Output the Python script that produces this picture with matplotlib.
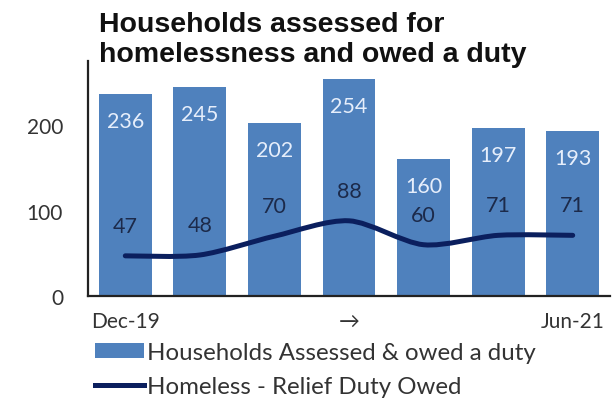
import numpy as np
import matplotlib
matplotlib.use("Agg")
import matplotlib.pyplot as plt
from matplotlib.path import Path
from matplotlib.patches import PathPatch, Patch
from matplotlib.lines import Line2D

# Quarterly figures, Dec-19 to Jun-21
periods = ["Dec-19", "Mar-20", "Jun-20", "Sep-20", "Dec-20", "Mar-21", "Jun-21"]
assessed_owed = [236, 245, 202, 254, 160, 197, 193]
relief_owed = [47, 48, 70, 88, 60, 71, 71]
tick_positions = [0, 3, 6]
tick_labels = ["Dec-19", "\u2192", "Jun-21"]
yticks = [0, 100, 200]

BAR_COLOR = "#4f81bd"
LINE_COLOR = "#0b1f5e"
TEXT_FONT = ["Lato", "DejaVu Sans"]

fig = plt.figure(figsize=(6.16, 4.02), dpi=100)
fig.patch.set_facecolor("white")
ax = fig.add_axes([88 / 616, 1 - 297 / 402, 522 / 616, 235 / 402])

x = np.arange(len(periods))
ax.bar(x, assessed_owed, width=0.71, color=BAR_COLOR, zorder=2)


def smooth_path(xs, ys, tension=6.0):
    """Cubic Bezier path through the points (Catmull-Rom style smoothing)."""
    pts = np.column_stack([xs, ys]).astype(float)
    n = len(pts)
    verts = [tuple(pts[0])]
    codes = [Path.MOVETO]
    for i in range(n - 1):
        p0 = pts[max(i - 1, 0)]
        p1 = pts[i]
        p2 = pts[i + 1]
        p3 = pts[min(i + 2, n - 1)]
        c1 = p1 + (p2 - p0) / tension
        c2 = p2 - (p3 - p1) / tension
        verts += [tuple(c1), tuple(c2), tuple(p2)]
        codes += [Path.CURVE4] * 3
    return Path(verts, codes)


ax.add_patch(PathPatch(smooth_path(x, relief_owed, 7.0), facecolor="none",
                       edgecolor=LINE_COLOR, lw=3.6, capstyle="round",
                       joinstyle="round", zorder=3))

for xi, v in zip(x, assessed_owed):
    ax.annotate(str(v), (xi, v), xytext=(0, -19.5), textcoords="offset points",
                ha="center", va="center", color="#e6eefb", fontsize=15.5,
                family=TEXT_FONT, zorder=4)
for xi, v in zip(x, relief_owed):
    ax.annotate(str(v), (xi, v), xytext=(0, 21.5), textcoords="offset points",
                ha="center", va="center", color="#1c2a4a", fontsize=15.5,
                family=TEXT_FONT, zorder=4)

ax.set_xlim(-0.5, 6.5)
ax.set_ylim(0, 275)
ax.set_yticks(yticks)
ax.set_yticklabels([str(t) for t in yticks], family=TEXT_FONT, fontsize=15,
                   color="#333333")
ax.set_xticks(tick_positions)
ax.set_xticklabels(tick_labels, family=TEXT_FONT, fontsize=15, color="#333333")
ax.tick_params(axis="y", length=0, pad=18)
ax.tick_params(axis="x", length=0, pad=11)

for side in ("top", "right"):
    ax.spines[side].set_visible(False)
for side in ("left", "bottom"):
    ax.spines[side].set_color("#222222")
    ax.spines[side].set_linewidth(1.6)

fig.text(99 / 616, 1 - 32 / 402, "Households assessed for", fontsize=20.5,
         fontweight="bold", family="Liberation Sans", color="#111111",
         va="baseline", ha="left")
fig.text(99 / 616, 1 - 62 / 402, "homelessness and owed a duty", fontsize=20.5,
         fontweight="bold", family="Liberation Sans", color="#111111",
         va="baseline", ha="left")

handles = [Patch(facecolor=BAR_COLOR, edgecolor="none"),
           Line2D([0], [0], color=LINE_COLOR, lw=3.6)]
labels = ["Households Assessed & owed a duty", "Homeless - Relief Duty Owed"]
fig.legend(handles, labels, loc="upper left",
           bbox_to_anchor=(95 / 616, 1 - 343 / 402), frameon=False,
           borderpad=0, borderaxespad=0, handlelength=2.05, handleheight=0.55,
           handletextpad=0.12, labelspacing=0.55,
           prop={"family": TEXT_FONT, "size": 17.3}, labelcolor="#333333")

fig.savefig("out.png", dpi=100, facecolor="white")
